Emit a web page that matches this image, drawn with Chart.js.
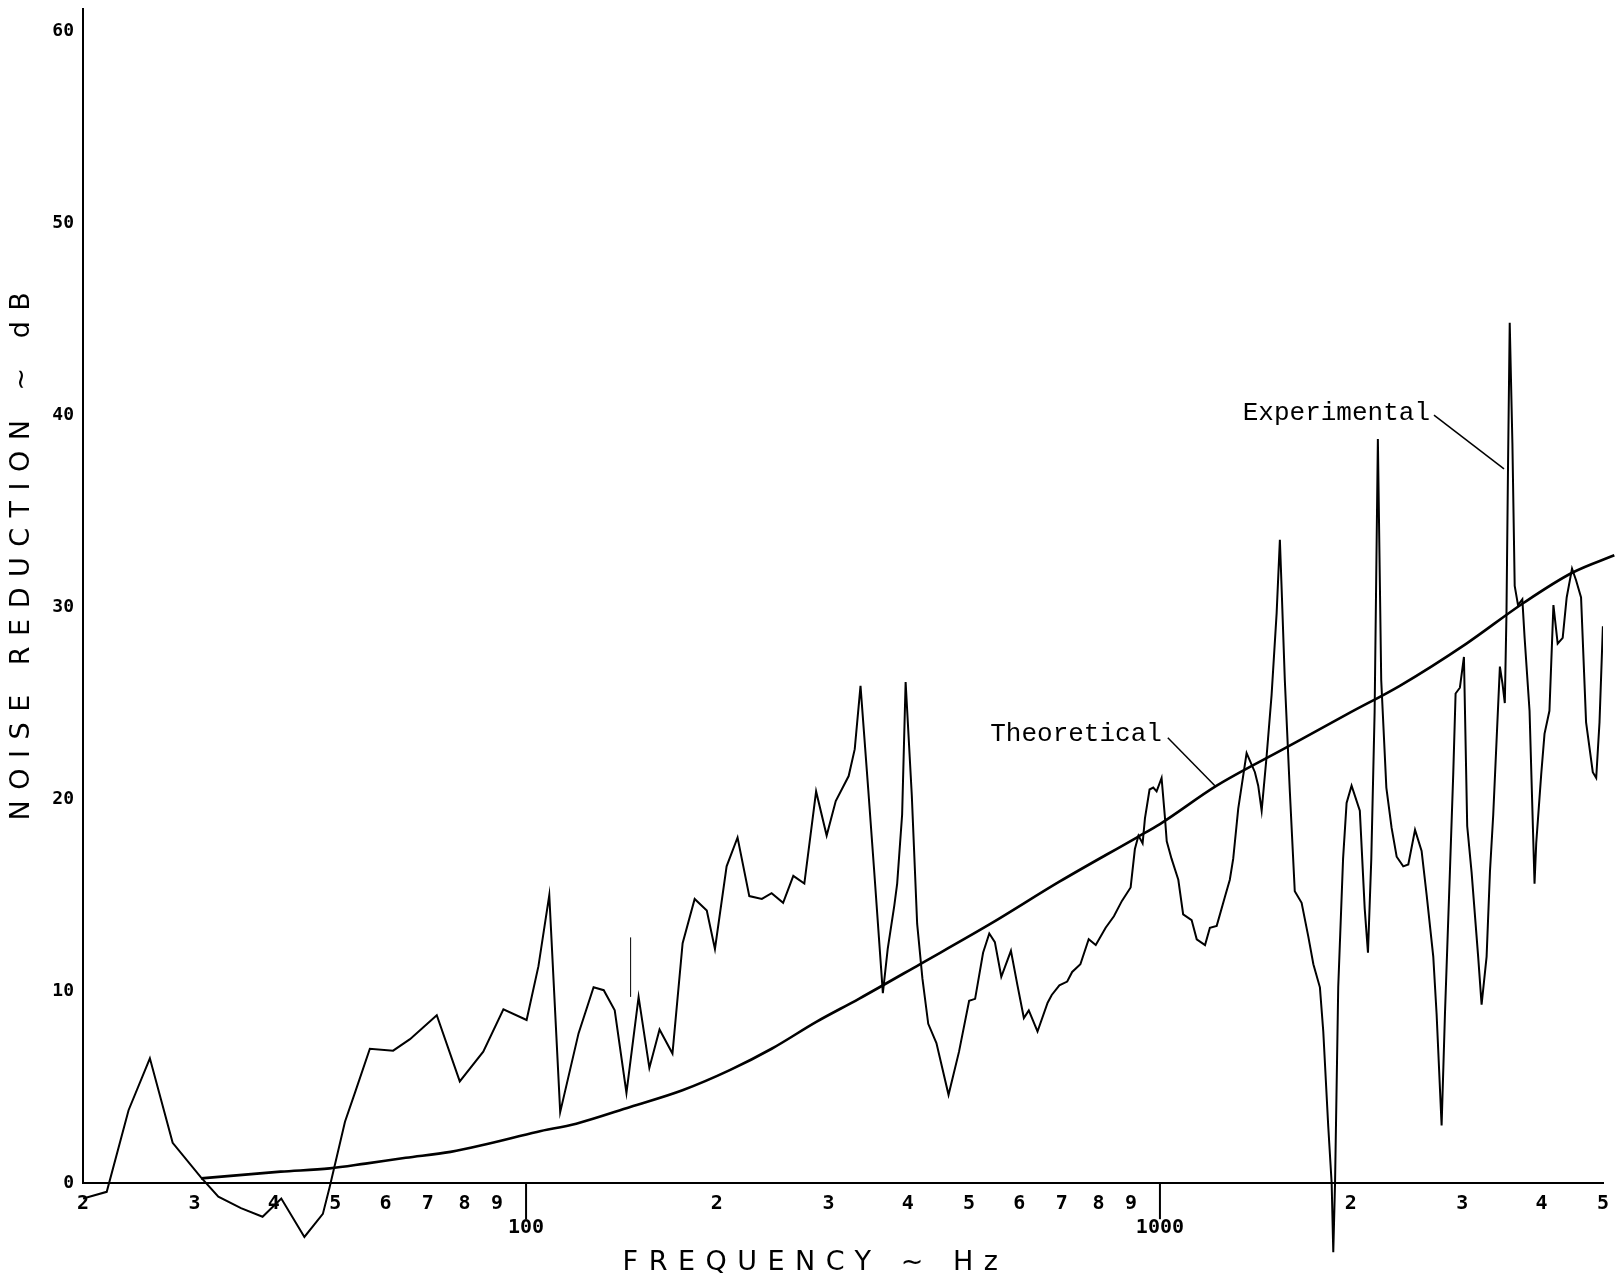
<!DOCTYPE html>
<html>
<head>
<meta charset="utf-8">
<title>Noise reduction</title>
<script src="https://cdn.jsdelivr.net/npm/chart.js@4.4.1/dist/chart.umd.min.js"></script>
<style>
  html, body { margin: 0; padding: 0; background: #fff; }
  canvas { display: block; }
</style>
</head>
<body>
<canvas id="noiseChart" width="1615" height="1282"></canvas>
<script>
// experimental curve (Hz, dB)
var expFreq = [20, 21.8, 23.6, 25.5, 27.7, 30.7, 32.7, 35.5, 38.4, 41.1, 44.7, 47.8, 49.0, 51.8, 53.7, 56.7,
    61.7, 65.6, 72.3, 78.6, 85.6, 92.1, 100.2, 104.6, 108.8, 113.2, 121, 127.8, 132.6, 138, 144, 150.5,
    156.5, 162.4, 170.2, 176.6, 184.5, 192.8, 198.6, 207.2, 215.6, 225, 235.5, 244, 254.4, 264, 274.8,
    286.8, 298, 308, 322.8, 330, 337, 346.6, 354, 365.5, 372, 381, 385, 392, 397, 406, 414, 422, 431,
    444, 464, 482, 500, 511, 526, 538, 549, 562, 582, 596, 610, 621, 641, 665, 675, 694, 714, 727, 749,
    772, 792, 821, 846, 871, 899, 913, 925, 939, 947, 963, 976, 988, 1006, 1018, 1025, 1043, 1069, 1088,
    1122, 1143, 1178, 1199, 1229, 1266, 1289, 1305, 1329, 1370, 1412, 1429, 1447, 1473, 1500, 1528,
    1546, 1555, 1574, 1603, 1632, 1673, 1714, 1746, 1788, 1810, 1843, 1866, 1877, 1889, 1911, 1945,
    1970, 2006, 2067, 2104, 2129, 2155, 2181, 2207, 2234, 2276, 2320, 2363, 2420, 2465, 2526, 2587,
    2635, 2699, 2732, 2782, 2816, 2867, 2902, 2927, 2973, 3017, 3053, 3102, 3177, 3217, 3276, 3316,
    3356, 3438, 3471, 3500, 3521, 3542, 3563, 3598, 3628, 3672, 3730, 3761, 3829, 3899, 3923, 3995,
    4043, 4116, 4176, 4241, 4319, 4382, 4468, 4534, 4617, 4702, 4818, 4878, 4937, 4998];
var expDb = [-0.8, -0.45, 3.8, 6.5, 2.1, 0.3, -0.7, -1.3, -1.75, -0.8, -2.8, -1.6, -0.2, 3.2, 4.7, 7.0,
    6.9, 7.5, 8.75, 5.3, 6.85, 9.05, 8.5, 11.3, 15.0, 3.7, 7.8, 10.2, 10.05, 9.0, 4.7, 9.7,
    6.0, 8.0, 6.75, 12.5, 14.8, 14.2, 12.2, 16.5, 18.0, 14.95, 14.8, 15.1, 14.6, 16.0, 15.6,
    20.4, 18.1, 19.9, 21.2, 22.6, 25.9, 20.5, 16.35, 9.9, 12.2, 14.45, 15.6, 19.2, 26.1, 20.2, 13.5, 10.65, 8.3,
    7.3, 4.6, 6.85, 9.5, 9.6, 12.0, 13.0, 12.55, 10.75, 12.1, 10.3, 8.6, 9.0, 7.9, 9.4, 9.8, 10.3, 10.5, 11.0, 11.4,
    12.7, 12.4, 13.3, 13.9, 14.7, 15.4, 17.4, 18.1, 17.7, 19.0, 20.5, 20.6, 20.4, 21.1, 19.1, 17.8, 16.9, 15.8, 14.0,
    13.7, 12.7, 12.4, 13.3, 13.4, 14.9, 15.8, 16.9, 19.5, 22.4, 21.4, 20.7, 19.4, 22.2, 25.4, 29.7,
    33.5, 31.2, 26.2, 20.4, 15.2, 14.6, 12.85, 11.4, 10.2, 7.9, 2.95, 0, -3.6, 0, 10.2, 16.9,
    19.8, 20.7, 19.4, 14.3, 12.0, 16.9, 24.5, 38.75, 26.2, 20.6, 18.5, 17.0, 16.5, 16.6, 18.4, 17.3,
    15.0, 11.8, 8.8, 3.0, 8.8, 16.2, 21.3, 25.5, 25.8, 27.4, 18.6, 16.2, 11.8, 9.3, 11.8, 16.2,
    19.2, 26.9, 26.0, 25.0, 29.6, 37.7, 44.8, 38.5, 31.1, 30.1, 30.4, 28.4, 24.6, 15.6, 17.7, 21.3,
    23.4, 24.6, 30.1, 28.1, 28.4, 30.5, 32.0, 31.4, 30.5, 24.0, 21.4, 21.1, 24.0, 29.0];

// theoretical curve (Hz, dB)
var theoFreq = [30.7, 41, 49, 55.8, 64.6, 76, 87.5, 104, 120, 146, 176.5, 210, 244, 287, 335, 418,
    540, 694, 919, 1000, 1229, 1565, 1994, 2390, 3045, 3740, 4478, 5210];
var theoDb = [0.25, 0.6, 0.77, 1.02, 1.32, 1.63, 2.07, 2.67, 3.1, 3.97, 4.84, 5.9, 7.0, 8.4, 9.6, 11.4,
    13.5, 15.7, 18.0, 18.7, 20.7, 22.6, 24.5, 25.9, 28.1, 30.2, 31.8, 32.7];

// short stray pen stroke near 146 Hz
var strayFreq = [146.2, 146.2];
var strayDb = [9.7, 12.8];

// axis ticks
var xTickValues = [20, 30, 40, 50, 60, 70, 80, 90, 100, 200, 300, 400, 500, 600, 700, 800, 900,
    1000, 2000, 3000, 4000, 5000];
var xTickLabels = ['2', '3', '4', '5', '6', '7', '8', '9', ['', '100'], '2', '3', '4', '5', '6', '7', '8', '9',
    ['', '1000'], '2', '3', '4', '5'];
var xDecades = [100, 1000];
var yTickValues = [0, 10, 20, 30, 40, 50, 60];
var yAxisTop = 61.2;

var xTitle = 'FREQUENCY ~ Hz';
var yTitle = 'NOISE REDUCTION ~ dB';

// callouts: text anchored at (freq, dB), leader from -> to
var notes = [
    { text: 'Experimental', at: [2667, 40.1], from: [2706, 40.0], to: [3490, 37.2] },
    { text: 'Theoretical', at: [1007, 23.4], from: [1029, 23.2], to: [1221, 20.7] }
];

function toPoints(xs, ys) {
    return xs.map(function (x, i) { return { x: x, y: ys[i] }; });
}

var extras = {
    id: 'extras',
    afterDraw: function (chart) {
        var ctx = chart.ctx;
        var x = chart.scales.x;
        var y = chart.scales.y;
        var zero = y.getPixelForValue(0);

        ctx.save();
        ctx.strokeStyle = '#000';
        ctx.fillStyle = '#000';

        // vertical axis line, stops at 0 dB
        ctx.lineWidth = 2;
        ctx.beginPath();
        ctx.moveTo(x.left, y.getPixelForValue(yAxisTop));
        ctx.lineTo(x.left, zero);
        ctx.stroke();

        // long ticks at the decades
        xDecades.forEach(function (v) {
            var px = x.getPixelForValue(v);
            ctx.beginPath();
            ctx.moveTo(px, zero);
            ctx.lineTo(px, zero + 36);
            ctx.stroke();
        });

        // callouts
        ctx.font = '26px "Liberation Mono", "DejaVu Sans Mono", monospace';
        ctx.textAlign = 'right';
        ctx.textBaseline = 'middle';
        ctx.lineWidth = 1.5;
        notes.forEach(function (n) {
            ctx.fillText(n.text, x.getPixelForValue(n.at[0]), y.getPixelForValue(n.at[1]));
            ctx.beginPath();
            ctx.moveTo(x.getPixelForValue(n.from[0]), y.getPixelForValue(n.from[1]));
            ctx.lineTo(x.getPixelForValue(n.to[0]), y.getPixelForValue(n.to[1]));
            ctx.stroke();
        });

        // axis titles, widely spaced like plotter lettering
        ctx.font = '27px "DejaVu Sans", sans-serif';
        ctx.letterSpacing = '10.5px';
        ctx.textAlign = 'center';
        ctx.fillText(xTitle, chart.width / 2 + 8, zero + 80);

        ctx.translate(22, 551);
        ctx.rotate(-Math.PI / 2);
        ctx.fillText(yTitle, 0, 0);
        ctx.restore();
    }
};

Chart.defaults.color = '#000';

var ctx = document.getElementById('noiseChart');
var noiseChart = new Chart(ctx, {
    type: 'line',
    data: {
        datasets: [
            {
                label: 'Experimental',
                data: toPoints(expFreq, expDb),
                borderColor: '#000',
                borderWidth: 2,
                pointRadius: 0,
                tension: 0
            },
            {
                label: 'Theoretical',
                data: toPoints(theoFreq, theoDb),
                borderColor: '#000',
                borderWidth: 2.6,
                pointRadius: 0,
                cubicInterpolationMode: 'monotone',
                clip: false
            },
            {
                label: 'stray',
                data: toPoints(strayFreq, strayDb),
                borderColor: '#000',
                borderWidth: 1,
                pointRadius: 0
            }
        ]
    },
    plugins: [extras],
    options: {
        responsive: false,
        animation: false,
        layout: { padding: { top: 8, right: 12, bottom: 22, left: 0 } },
        plugins: {
            legend: { display: false },
            tooltip: { enabled: false }
        },
        scales: {
            x: {
                type: 'logarithmic',
                min: 20,
                max: 5000,
                position: { y: 0 },
                afterBuildTicks: function (scale) {
                    scale.ticks = xTickValues.map(function (v) { return { value: v }; });
                },
                // invisible tick marks give the label offset without extra layout padding
                grid: { display: false, drawTicks: true, tickLength: 9, tickColor: 'rgba(0,0,0,0)' },
                border: { display: true, color: '#000', width: 2 },
                ticks: {
                    autoSkip: false,
                    maxRotation: 0,
                    padding: 0,
                    font: { family: 'DejaVu Sans Mono', size: 20, weight: 'bold', lineHeight: 1.2 },
                    callback: function (value, index) { return xTickLabels[index]; }
                }
            },
            y: {
                type: 'linear',
                min: -4,
                max: 61.05,
                afterBuildTicks: function (scale) {
                    scale.ticks = yTickValues.map(function (v) { return { value: v }; });
                },
                afterFit: function (scale) { scale.width = 83; },
                grid: { display: false, drawTicks: true, tickLength: 9, tickColor: 'rgba(0,0,0,0)' },
                border: { display: false },
                ticks: {
                    padding: 0,
                    font: { family: 'DejaVu Sans Mono', size: 18, weight: 'bold' }
                }
            }
        }
    }
});
</script>
</body>
</html>
